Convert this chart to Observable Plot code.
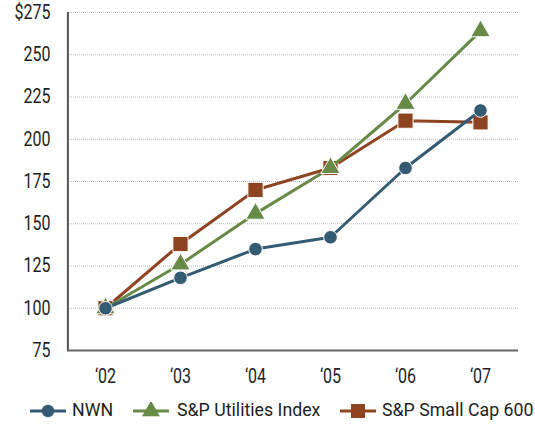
<!DOCTYPE html>
<html>
<head>
<meta charset="utf-8">
<script src="https://cdn.jsdelivr.net/npm/d3@7"></script>
<script src="https://cdn.jsdelivr.net/npm/@observablehq/plot@0.6"></script>
<style>
  html, body { margin: 0; padding: 0; background: #fff; }
  body { width: 535px; height: 429px; overflow: hidden; font-family: Roboto, sans-serif; }
  #legend { position: relative; height: 37px; font-size: 18.7px; color: #1e1e1e; white-space: nowrap; }
  #legend svg { position: absolute; top: 10px; }
  #legend span { position: absolute; top: 7px; line-height: 22px; transform: scaleX(0.95); transform-origin: left center; }
</style>
</head>
<body>
<div id="chart"></div>
<div id="legend"></div>
<script>
// Cumulative total return, indexed to $100 at year-end 2002
const years = ["'02", "'03", "'04", "'05", "'06", "'07"];
const yearLabels = ["\u201802", "\u201803", "\u201804", "\u201805", "\u201806", "\u201807"];
const nwn = [100, 118, 135, 142, 183, 217];
const utilities = [100, 126, 156, 183, 221, 264];
const smallCap = [100, 138, 170, 183, 211, 210];
const seriesNames = ["NWN", "S&P Utilities Index", "S&P Small Cap 600"];
const colors = ["#345b72", "#678a46", "#8f4421"];
const symbols = ["circle", "triangle", "square"];
const yTicks = [75, 100, 125, 150, 175, 200, 225, 250, 275];

const rows = (name, vals) => vals.map((v, i) => ({series: name, year: years[i], value: v}));
const data = [
  ...rows(seriesNames[0], nwn),
  ...rows(seriesNames[1], utilities),
  ...rows(seriesNames[2], smallCap)
];

const radius = {circle: 6.8, triangle: 7.2, square: 8.6};
const seriesMarks = (idx) => {
  const name = seriesNames[idx];
  const d = data.filter(r => r.series === name);
  return [
    Plot.line(d, {x: "year", y: "value", stroke: colors[idx], strokeWidth: 3}),
    Plot.dot(d, {x: "year", y: "value", fill: colors[idx], stroke: "#fff", strokeWidth: 1,
      symbol: () => symbols[idx], r: radius[symbols[idx]]})
  ];
};

const chart = Plot.plot({
  width: 535,
  height: 392,
  marginTop: 12,
  marginBottom: 42,
  marginLeft: 67,
  marginRight: 17,
  style: {fontFamily: "Roboto, sans-serif", fontSize: "20px", color: "#1e1e1e"},
  x: {type: "point", domain: years, padding: 0.5},
  y: {domain: [75, 275]},
  symbol: {type: "identity"},
  marks: [
    Plot.gridY(yTicks.slice(1), {stroke: "#bdbdbd", strokeOpacity: 1, strokeDasharray: "1,1", strokeWidth: 1, insetLeft: 2}),
    Plot.axisY(yTicks, {label: null, tickSize: 0, tickPadding: 17, tickFormat: d => d === 275 ? "$275" : String(d), fontSize: 20}),
    Plot.axisX(years, {label: null, tickSize: 0, tickPadding: 18, tickFormat: d => yearLabels[years.indexOf(d)], fontSize: 20}),
    Plot.ruleX([years[0]], {stroke: "#555", strokeWidth: 2, dx: -37.6}),
    Plot.ruleY([75], {stroke: "#666", strokeWidth: 2}),
    ...seriesMarks(2),
    ...seriesMarks(1),
    ...seriesMarks(0)
  ]
});

// Narrow the tick labels horizontally, keeping each anchored in place
chart.querySelectorAll("g[aria-label$='tick label'] text").forEach(t => {
  const tr = t.getAttribute("transform") || "";
  t.setAttribute("transform", (tr + " scale(0.8,1)").trim());
});
document.getElementById("chart").appendChild(chart);

// Legend: line + marker swatch for each series, then its name
const legend = d3.select("#legend");
const swatchX = [30, 133, 340];
const labelX = [72, 177, 382];
[0, 1, 2].forEach(idx => {
  const sw = legend.append("svg").attr("width", 36).attr("height", 18).style("left", swatchX[idx] + "px");
  sw.append("line").attr("x1", 0).attr("x2", 36).attr("y1", 9).attr("y2", 9)
    .attr("stroke", colors[idx]).attr("stroke-width", 3);
  const sym = {circle: d3.symbolCircle, triangle: d3.symbolTriangle, square: d3.symbolSquare}[symbols[idx]];
  const r = radius[symbols[idx]] * 0.92;
  sw.append("path").attr("transform", "translate(18,9)")
    .attr("d", d3.symbol(sym, r * r * Math.PI)())
    .attr("fill", colors[idx]);
  legend.append("span").style("left", labelX[idx] + "px").text(seriesNames[idx]);
});
</script>
</body>
</html>
